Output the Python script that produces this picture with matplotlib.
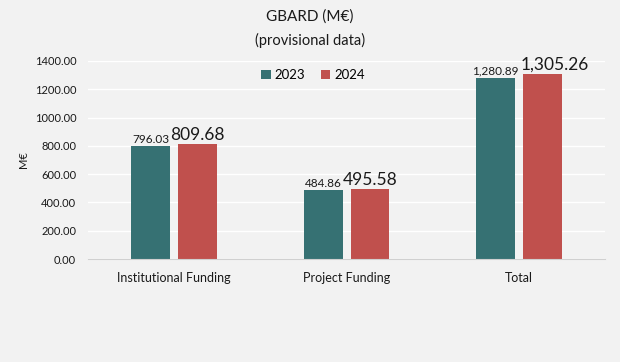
import matplotlib
matplotlib.use('Agg')
import matplotlib.pyplot as plt
import numpy as np

# data
categories = ['Institutional Funding', 'Project Funding', 'Total']
values_2023 = [796.03, 484.86, 1280.89]
values_2024 = [809.68, 495.58, 1305.26]
series_names = ['2023', '2024']
y_ticks = [0, 200, 400, 600, 800, 1000, 1200, 1400]

# style
bg_color = '#F2F2F2'
colors = ['#367173', '#C0504D']
plt.rcParams['font.family'] = ['Lato', 'DejaVu Sans']

fig = plt.figure(figsize=(6.2, 3.62), dpi=100)
fig.patch.set_facecolor(bg_color)
ax = fig.add_axes([0.142, 0.2845, 0.834, 0.547])
ax.set_facecolor(bg_color)

x = np.arange(len(categories))
width = 0.226
offset = 0.136

bars_a = ax.bar(x - offset, values_2023, width, color=colors[0],
                label=series_names[0], zorder=3)
bars_b = ax.bar(x + offset, values_2024, width, color=colors[1],
                label=series_names[1], zorder=3)

for b, v in zip(bars_a, values_2023):
    ax.annotate('{:,.2f}'.format(v), (b.get_x() + b.get_width() / 2, v),
                xytext=(0, 1), textcoords='offset points',
                ha='center', va='bottom', fontsize=8.5, color='#1a1a1a')
# last big label is nudged right in the original to clear its neighbour
shifts = [0, 0, 9]
for b, v, dx in zip(bars_b, values_2024, shifts):
    ax.annotate('{:,.2f}'.format(v), (b.get_x() + b.get_width() / 2, v),
                xytext=(dx, 1), textcoords='offset points',
                ha='center', va='bottom', fontsize=12.5, color='#1a1a1a')

ax.set_xlim(-0.5, 2.5)
ax.set_ylim(0, 1400)
ax.set_yticks(y_ticks)
ax.set_yticklabels(['{:.2f}'.format(t) for t in y_ticks])
ax.set_xticks(x)
ax.set_xticklabels(categories)
ax.tick_params(axis='y', length=0, labelsize=8, pad=8.5, colors='#1a1a1a')
ax.tick_params(axis='x', length=0, labelsize=9, pad=9, colors='#1a1a1a')

ax.grid(axis='y', color='white', linewidth=1, zorder=0)
for s in ['top', 'right', 'left']:
    ax.spines[s].set_visible(False)
ax.spines['bottom'].set_color('#D0D0D0')
ax.spines['bottom'].set_zorder(4)

ax.set_ylabel('M€', fontsize=8, color='#1a1a1a', labelpad=4)

fig.text(0.5, 1 - 17 / 362, 'GBARD (M€)', ha='center', va='center',
         fontsize=11, color='#1a1a1a')
fig.text(0.5, 1 - 40 / 362, '(provisional data)', ha='center', va='center',
         fontsize=10.5, color='#1a1a1a')

fig.legend(loc='center', bbox_to_anchor=(0.505, 1 - 75 / 362), ncol=2,
           frameon=False, fontsize=9.5, handlelength=0.7, handleheight=0.7,
           handletextpad=0.3, columnspacing=1.2)

fig.savefig('out.png', dpi=100, facecolor=bg_color)
